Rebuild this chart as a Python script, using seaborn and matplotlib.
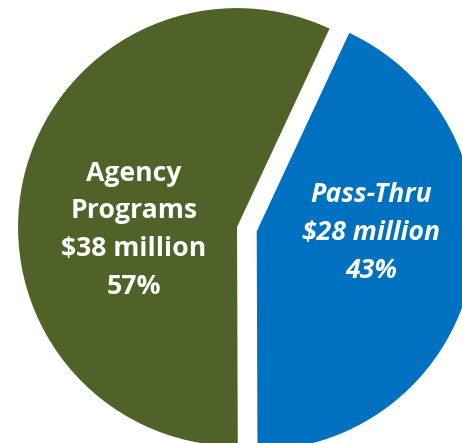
import matplotlib
matplotlib.use("Agg")
import matplotlib.pyplot as plt
import seaborn as sns

sns.set_theme(style="white")
plt.rcParams["font.family"] = ["Open Sans", "DejaVu Sans"]

# data
categories = ["Agency\nPrograms", "Pass-Thru"]
amounts = ["$38 million", "$28 million"]
shares = [57, 43]
colors = ["#4F6228", "#0070C0"]
explode = [0.0, 0.092]

fig = plt.figure(figsize=(4.62, 4.43), dpi=100)
ax = fig.add_axes([0, 0, 1, 1])

wedges, _ = ax.pie(
    shares,
    colors=colors,
    explode=explode,
    startangle=65,
    counterclock=True,
    radius=1.0,
    wedgeprops={"linewidth": 0},
)

# crop like the reference (pie overflows the frame)
ax.set_xlim(-1.082, 1.027)
ax.set_ylim(-0.986, 1.037)
ax.set_aspect("equal", adjustable="box")
ax.axis("off")

label_pos = [(-0.47, -0.014), (0.612, -0.027)]
styles = ["normal", "italic"]
for cat, amt, pct, (x, y), st in zip(categories, amounts, shares, label_pos, styles):
    ax.text(x, y, f"{cat}\n{amt}\n{pct}%", ha="center", va="center",
            color="white", fontsize=19.2, fontweight="bold", fontstyle=st,
            linespacing=1.58)

plt.savefig("out.png", dpi=100)
plt.close()
